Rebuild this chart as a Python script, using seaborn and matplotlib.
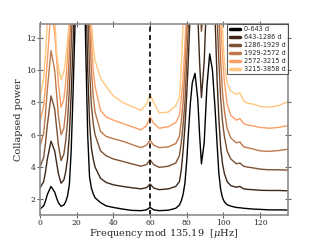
import numpy as np
import pandas as pd
import seaborn as sns
import matplotlib.pyplot as plt
from matplotlib.lines import Line2D

# frequency grid (mod 135.19 uHz) and collapsed power for each time span
freq = [0, 2, 3, 4, 6, 8, 9, 10, 11.5, 13,
        14, 15, 16, 17, 18, 19, 20, 22, 24, 25,
        26, 27, 28, 29, 30, 33, 36, 40, 45, 50,
        55, 58, 60, 62, 65, 70, 74, 76, 77, 78,
        79, 80, 81, 82, 83, 84.5, 86, 87, 88, 89.5,
        91, 92.5, 94, 95.5, 96.5, 97.5, 98.5, 99.5, 100.5, 102,
        104, 107, 109, 111, 113, 116, 120, 125, 130, 135.19]

spans = ['0-643 d', '643-1286 d', '1286-1929 d', '1929-2572 d', '2572-3215 d', '3215-3858 d']

p0 = [1.4, 1.6, 1.9, 2.3, 2.8, 2.45, 2.1, 1.8, 1.57, 1.65,
      1.85, 2.2, 2.9, 5.0, 8.5, 12.5, 17, 30, 17, 11,
      6.0, 3.4, 2.7, 2.35, 2.1, 1.8, 1.6, 1.5, 1.4, 1.32,
      1.3, 1.35, 1.5, 1.35, 1.3, 1.33, 1.45, 1.65, 1.9, 2.3,
      3.0, 4.4, 6.3, 8.0, 9.2, 9.8, 8.2, 6.0, 4.2, 5.5,
      9.0, 11.0, 10.0, 7.5, 5.5, 3.6, 2.6, 2.1, 1.85, 1.67,
      1.58, 1.5, 1.48, 1.45, 1.43, 1.4, 1.38, 1.35, 1.35, 1.34]
p1 = [2.7, 3.1, 3.7, 4.5, 5.6, 5.0, 4.3, 3.6, 3.0, 3.2,
      3.7, 4.5, 6.0, 8.5, 11.5, 15, 20, 35, 22, 15,
      10, 6.8, 5.2, 4.5, 4.0, 3.3, 3.05, 2.9, 2.8, 2.72,
      2.65, 2.72, 2.95, 2.7, 2.6, 2.65, 2.8, 3.1, 3.8, 5.0,
      6.5, 8.5, 11, 14, 16, 17, 13.5, 10.5, 8.3, 10.5,
      15, 19, 17, 13, 9.5, 7.0, 5.2, 4.2, 3.6, 3.1,
      2.85, 2.75, 2.8, 2.65, 2.62, 2.6, 2.56, 2.55, 2.55, 2.53]
p2 = [4.0, 4.6, 5.5, 6.6, 8.4, 7.6, 6.5, 5.4, 4.4, 4.8,
      5.6, 6.8, 8.8, 11.5, 14.5, 19, 25, 40, 28, 20,
      14, 10, 7.8, 6.7, 6.0, 5.0, 4.7, 4.5, 4.35, 4.2,
      4.05, 4.15, 4.45, 4.15, 3.98, 4.05, 4.25, 4.7, 5.5, 6.6,
      8.0, 10.5, 13, 16, 19, 22, 17, 14.5, 12.4, 14,
      19, 24, 22, 17, 13.5, 10.5, 8.2, 6.8, 5.9, 5.0,
      4.5, 4.2, 4.25, 4.05, 4.0, 3.95, 3.87, 3.83, 3.83, 3.81]
p3 = [5.3, 6.1, 7.3, 8.8, 11.2, 10.0, 8.6, 7.2, 6.0, 6.4,
      7.4, 8.9, 11, 14, 18, 23, 30, 45, 32, 25,
      18, 13, 10, 8.4, 7.4, 6.2, 5.9, 5.75, 5.6, 5.4,
      5.2, 5.35, 5.65, 5.35, 5.2, 5.25, 5.45, 5.9, 6.8, 8.0,
      10, 12.5, 15, 18, 22, 25, 21, 18, 16, 18,
      23, 28, 26, 21, 17, 13.5, 10.5, 8.6, 7.5, 6.4,
      5.8, 5.5, 5.55, 5.25, 5.2, 5.12, 5.0, 4.97, 5.02, 5.1]
p4 = [6.8, 7.8, 9.0, 10.6, 13.8, 12.3, 10.8, 9.2, 7.7, 8.2,
      9.2, 10.8, 13, 16, 21, 27, 34, 50, 36, 29,
      22, 16, 12, 10, 9.0, 7.5, 7.1, 6.9, 6.7, 6.5,
      6.3, 6.55, 7.1, 6.7, 6.4, 6.5, 6.75, 7.2, 8.2, 9.5,
      11.5, 14, 17, 21, 25, 28, 25, 22, 20, 22,
      27, 32, 30, 25, 21, 17, 13, 10.8, 9.3, 7.9,
      7.2, 6.9, 7.0, 6.7, 6.6, 6.55, 6.45, 6.4, 6.45, 6.57]
p5 = [8.3, 9.5, 11, 13, 17, 13.5, 11.1, 10.2, 9.4, 9.9,
      10.6, 11.8, 13, 16, 22, 29, 37, 55, 40, 33,
      26, 19, 13, 11.5, 10.6, 9.5, 9.0, 8.4, 8.0, 7.75,
      7.5, 7.9, 8.5, 8.0, 7.35, 7.4, 7.8, 8.3, 10.2, 12.8,
      15, 18, 21, 25, 29, 32, 29, 26, 24, 26,
      31, 36, 34, 29, 24, 19, 15, 12.5, 10.5, 9.2,
      8.7, 8.5, 8.6, 8.1, 7.95, 7.9, 7.75, 7.7, 7.8, 8.05]

powers = [p0, p1, p2, p3, p4, p5]

rows = []
for span, p in zip(spans, powers):
    for f, v in zip(freq, p):
        rows.append({'freq': f, 'power': v, 'span': span})
df = pd.DataFrame(rows)

sns.set_style('ticks', {'axes.edgecolor': '0.55'})
plt.rcParams['font.family'] = ['DejaVu Serif']
plt.rcParams['mathtext.fontset'] = 'dejavuserif'

colors = [plt.cm.copper(c) for c in np.linspace(0, 1, len(spans))]

fig, ax = plt.subplots(figsize=(3.2, 2.4), dpi=100)
fig.subplots_adjust(left=0.125, right=0.9, bottom=0.104, top=0.9)

sns.lineplot(data=df, x='freq', y='power', hue='span', palette=colors,
             estimator=None, sort=False, linewidth=1.0, legend=False, ax=ax)
ax.axvline(60, color='black', linestyle='--', linewidth=1.2, dashes=(3, 2))

ax.set_xlim(0, 135.19)
ax.set_ylim(1.03, 12.85)
ax.set_xticks([0, 20, 40, 60, 80, 100, 120])
ax.set_yticks([2, 4, 6, 8, 10, 12])
for s in ax.spines.values():
    s.set_linewidth(1.2)
ax.tick_params(direction='inout', length=4, width=0.8, color='0.4',
               labelsize=5.5, pad=1, top=True, right=True)
ax.set_xlabel('Frequency mod 135.19  [$\\mu$Hz]', fontsize=7, labelpad=0)
ax.set_ylabel('Collapsed power', fontsize=7, labelpad=2)

handles = [Line2D([0], [0], color=c, linewidth=2.5) for c in colors]
leg = ax.legend(handles, spans, loc='upper right', frameon=True,
                fancybox=False, borderaxespad=0, handlelength=1.6,
                handletextpad=0.6, labelspacing=0.3, borderpad=0.35,
                prop={'family': 'DejaVu Sans', 'size': 4.7})
leg.get_frame().set_edgecolor('0.2')
leg.get_frame().set_linewidth(0.8)

fig.savefig('out.png', dpi=100)
